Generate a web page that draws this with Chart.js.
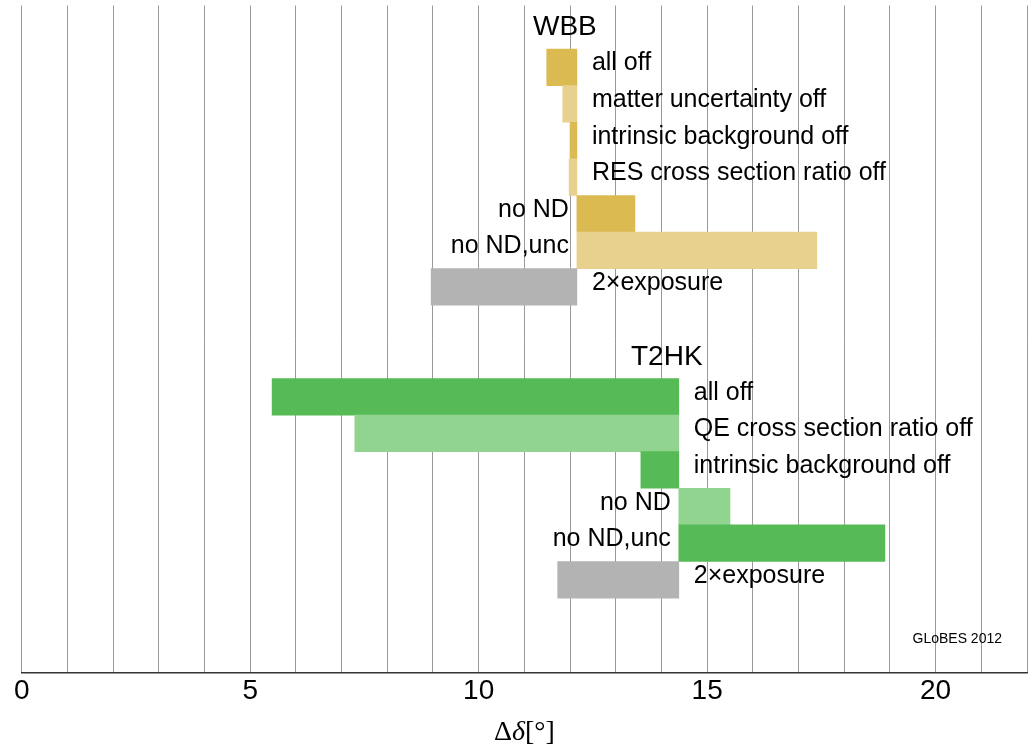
<!DOCTYPE html>
<html>
<head>
<meta charset="utf-8">
<script src="https://cdn.jsdelivr.net/npm/chart.js@4"></script>
<style>
  html, body { margin: 0; padding: 0; background: #fff; }
  #wrap { width: 1035px; height: 744px; position: relative; }
</style>
</head>
<body>
<div id="wrap"><canvas id="chartDelta"></canvas></div>
<script>
// experiments (group titles)
const groupNames = ['WBB', 'T2HK'];

// WBB: the bar runs from each value to the common baseline
const wbbBase = 12.15;
const wbbLabels = ['all off', 'matter uncertainty off', 'intrinsic background off',
  'RES cross section ratio off', 'no ND', 'no ND,unc', '2×exposure'];
const wbbValues = [11.49, 11.84, 12.0, 11.98, 13.42, 17.4, 8.96];

// T2HK
const t2hkBase = 14.38;
const t2hkLabels = ['all off', 'QE cross section ratio off', 'intrinsic background off',
  'no ND', 'no ND,unc', '2×exposure'];
const t2hkValues = [5.48, 7.29, 13.55, 15.5, 18.89, 11.73];

// x axis ticks that carry a number
const xTickLabels = [0, 5, 10, 15, 20];

const wbbColors = ['#dbba52', '#e8d18e'];
const t2hkColors = ['#56bb56', '#91d490'];
const grey = '#b3b3b3';

// rows from the top: title, items, gap, title, items
function buildRows(labels, values, base, firstRow, colors) {
  return labels.map((lab, i) => ({
    y: firstRow + i,
    x: [values[i], base],
    label: lab,
    color: i === labels.length - 1 ? grey : colors[i % 2]
  }));
}

const wbbTitleRow = 0;
const wbbRows = buildRows(wbbLabels, wbbValues, wbbBase, wbbTitleRow + 1, wbbColors);
const t2hkTitleRow = wbbTitleRow + wbbLabels.length + 2;
const t2hkRows = buildRows(t2hkLabels, t2hkValues, t2hkBase, t2hkTitleRow + 1, t2hkColors);

const labelFont = '25px "Liberation Sans", Arial, sans-serif';
const titleFont = '28px "Liberation Sans", Arial, sans-serif';

const textPlugin = {
  id: 'textPlugin',
  afterDatasetsDraw(chart) {
    const ctx = chart.ctx;
    const xs = chart.scales.x, ys = chart.scales.y;
    const area = chart.chartArea;
    ctx.save();
    ctx.fillStyle = '#000';

    const groups = [
      { name: groupNames[0], rows: wbbRows, base: wbbBase, titleRow: wbbTitleRow },
      { name: groupNames[1], rows: t2hkRows, base: t2hkBase, titleRow: t2hkTitleRow }
    ];
    groups.forEach(g => {
      const bx = xs.getPixelForValue(g.base);
      ctx.font = titleFont;
      ctx.textAlign = 'center';
      ctx.textBaseline = 'alphabetic';
      ctx.fillText(g.name, bx - 12, ys.getPixelForValue(g.titleRow) + 4.5);

      ctx.font = labelFont;
      g.rows.forEach(r => {
        const y = ys.getPixelForValue(r.y) + 3;
        if (r.x[0] < g.base) {
          ctx.textAlign = 'left';
          ctx.fillText(r.label, bx + 15, y);
        } else {
          ctx.textAlign = 'right';
          ctx.fillText(r.label, bx - 8, y);
        }
      });
    });

    // credit
    ctx.font = '14px "Liberation Sans", Arial, sans-serif';
    ctx.textAlign = 'right';
    ctx.fillText('GLoBES 2012', area.right - 25, area.bottom - 29);

    // axis title: Δδ[°] with italic delta
    const serif = '"Liberation Serif", "Times New Roman", serif';
    const parts = [
      { t: 'Δ', f: '28px ' + serif },
      { t: 'δ', f: 'italic 28px ' + serif },
      { t: '[°]', f: '28px ' + serif }
    ];
    let total = 0;
    parts.forEach(p => { ctx.font = p.f; p.w = ctx.measureText(p.t).width; total += p.w; });
    let x = (area.left + area.right) / 2 - total / 2;
    ctx.textAlign = 'left';
    parts.forEach(p => { ctx.font = p.f; ctx.fillText(p.t, x, 740); x += p.w; });
    ctx.restore();
  }
};

const ctxDelta = document.getElementById('chartDelta').getContext('2d');

new Chart(ctxDelta, {
  type: 'bar',
  data: {
    datasets: [
      {
        label: groupNames[0],
        data: wbbRows,
        backgroundColor: wbbRows.map(r => r.color),
        categoryPercentage: 1,
        barPercentage: 1
      },
      {
        label: groupNames[1],
        data: t2hkRows,
        backgroundColor: t2hkRows.map(r => r.color),
        categoryPercentage: 1,
        barPercentage: 1
      }
    ]
  },
  options: {
    indexAxis: 'y',
    responsive: true,
    maintainAspectRatio: false,
    animation: false,
    grouped: false,
    layout: { padding: { left: 21.7, right: 8, top: 5.5, bottom: 34 } },
    plugins: { legend: { display: false }, tooltip: { enabled: false } },
    scales: {
      x: {
        type: 'linear',
        min: 0,
        max: 22,
        grid: { color: '#999', lineWidth: 1, drawTicks: false },
        border: { color: '#333', width: 1.5 },
        ticks: {
          stepSize: 1,
          autoSkip: false,
          maxRotation: 0,
          padding: 2,
          color: '#000',
          font: { family: '"Liberation Sans", Arial, sans-serif', size: 28 },
          callback: v => xTickLabels.includes(v) ? String(v) : ''
        }
      },
      y: {
        type: 'linear',
        reverse: true,
        offset: false,
        min: -0.69,
        max: 17.53,
        display: false,
        ticks: { stepSize: 1 },
        afterBuildTicks: axis => {
          axis.ticks = axis.ticks.filter(t => Number.isInteger(t.value));
        }
      }
    }
  },
  plugins: [textPlugin]
});
</script>
</body>
</html>
